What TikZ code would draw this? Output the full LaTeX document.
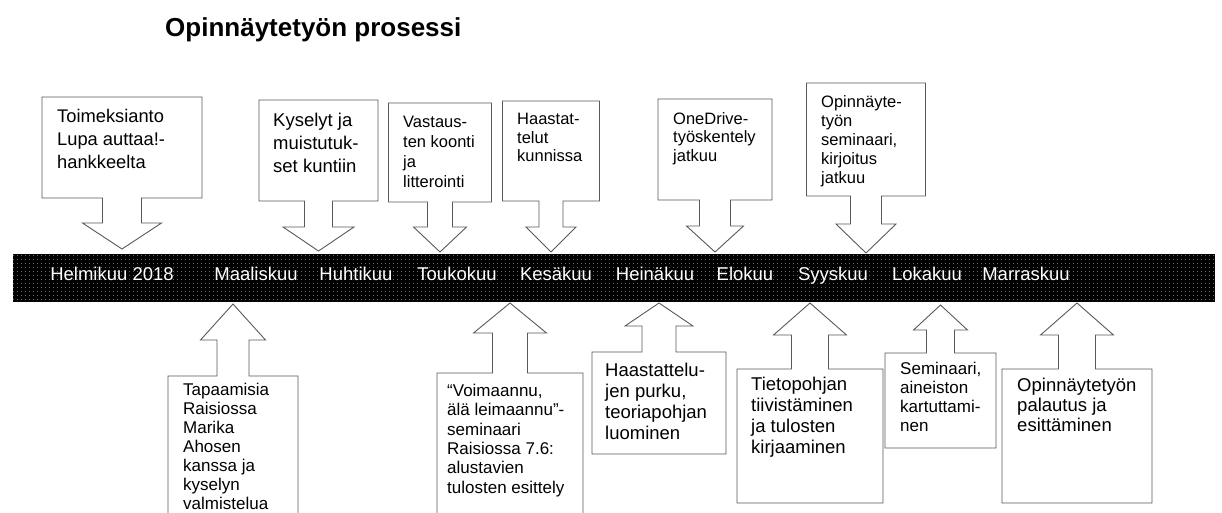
\documentclass[tikz,border=0pt]{standalone}
\usepackage{fontspec}
\setmainfont{Liberation Sans}
\usetikzlibrary{patterns.meta}

% sparse dot texture for the timeline bar
\tikzdeclarepattern{
  name=bardots,
  type=uncolored,
  bottom left={(0pt,0pt)},
  top right={(4pt,4pt)},
  tile size={(4pt,4pt)},
  code={\fill (2pt,2pt) circle (0.55pt);}
}

\tikzset{
  callout/.style={draw=black!65, line width=0.9pt, fill=white, line join=miter},
  note/.style={anchor=north west, inner sep=0pt, align=left, text=black},
  month/.style={anchor=base, text=white, inner sep=0pt, font=\fontsize{18.5}{22}\selectfont},
  titletext/.style={anchor=base west, inner sep=0pt, font=\fontsize{26}{30}\selectfont\bfseries},
}

% Block-arrow callouts: #1 centre x, #2 half box width, #3 box top, #4 box bottom,
% #5 half stem width, #6 half head width, #7 shoulder y, #8 tip y
\newcommand\downcallout[8]{%
  \draw[callout] ({#1-#2},#3) -- ({#1+#2},#3) -- ({#1+#2},#4) -- ({#1+#5},#4)
    -- ({#1+#5},#7) -- ({#1+#6},#7) -- (#1,#8) -- ({#1-#6},#7) -- ({#1-#5},#7)
    -- ({#1-#5},#4) -- ({#1-#2},#4) -- cycle;}
\newcommand\upcallout[8]{%
  \draw[callout] (#1,#8) -- ({#1+#6},#7) -- ({#1+#5},#7) -- ({#1+#5},#3)
    -- ({#1+#2},#3) -- ({#1+#2},#4) -- ({#1-#2},#4) -- ({#1-#2},#3)
    -- ({#1-#5},#3) -- ({#1-#5},#7) -- ({#1-#6},#7) -- cycle;}

\begin{document}
\begin{tikzpicture}[x=1pt,y=-1pt]
\useasboundingbox (0,0) rectangle (1222,512);
\clip (0,0) rectangle (1222,512);

% title
\node[titletext] (title) at (165,36) {Opinnäytetyön prosessi};

% timeline bar
\fill[black] (13,254) rectangle (1215,302);
\fill[pattern=bardots, pattern color=gray!55] (13,254) rectangle (1215,302);
\coordinate (bar) at (614,278);

% months
\node[month] (m02) at (112,280) {Helmikuu 2018};
\node[month] (m03) at (256,280) {Maaliskuu};
\node[month] (m04) at (356,280) {Huhtikuu};
\node[month] (m05) at (457,280) {Toukokuu};
\node[month] (m06) at (556,280) {Kesäkuu};
\node[month] (m07) at (655,280) {Heinäkuu};
\node[month] (m08) at (745,280) {Elokuu};
\node[month] (m09) at (833,280) {Syyskuu};
\node[month] (m10) at (927,280) {Lokakuu};
\node[month] (m11) at (1026,280) {Marraskuu};

% callouts above the bar
\downcallout{122}{80}{97}{198}{19.5}{39.5}{223}{249}
\downcallout{318.5}{59.5}{100}{201}{14}{35.5}{227}{251}
\downcallout{440}{51.5}{103}{202}{12.5}{26.5}{227}{252}
\downcallout{551}{48.5}{101}{201}{12}{25}{227}{252}
\downcallout{715}{57}{99}{200}{15.5}{28.5}{226}{252}
\downcallout{866}{59.5}{83}{196}{15.5}{30}{224}{253}

\node[note, font=\fontsize{18.3}{23}\selectfont] (t1) at (57,109)
  {Toimeksianto\\Lupa auttaa!-\\hankkeelta};
\node[note, font=\fontsize{18.5}{23}\selectfont] (t2) at (273,113)
  {Kyselyt ja\\muistutuk-\\set kuntiin};
\node[note, font=\fontsize{16.5}{20}\selectfont] (t3) at (403,116)
  {Vastaus-\\ten koonti\\ja\\litterointi};
\node[note, font=\fontsize{16.5}{18.5}\selectfont] (t4) at (517,113)
  {Haastat-\\telut\\kunnissa};
\node[note, font=\fontsize{16.5}{18.5}\selectfont] (t5) at (673,112)
  {OneDrive-\\työskentely\\jatkuu};
\node[note, font=\fontsize{16.5}{19}\selectfont] (t6) at (821,95)
  {Opinnäyte-\\työn\\seminaari,\\kirjoitus\\jatkuu};

% callouts below the bar
\upcallout{233}{65}{376}{520}{16}{32.5}{340}{304}
\upcallout{510}{73}{373}{520}{17.5}{36.5}{333}{303}
\upcallout{659}{67}{352}{454}{17}{34}{326}{303}
\upcallout{810}{73}{369}{503}{18.5}{36.5}{335}{303}
\upcallout{940.5}{55.5}{353}{448}{14}{27}{330}{305}
\upcallout{1077}{75}{369}{503}{18.5}{36.5}{335}{303}

\node[note, font=\fontsize{17}{19}\selectfont] (b1) at (183,383)
  {Tapaamisia\\Raisiossa\\Marika\\Ahosen\\kanssa ja\\kyselyn\\valmistelua};
\node[note, font=\fontsize{17}{19.3}\selectfont] (b2) at (447,384)
  {“Voimaannu,\\älä leimaannu”-\\seminaari\\Raisiossa 7.6:\\alustavien\\tulosten esittely};
\node[note, font=\fontsize{18.5}{21}\selectfont] (b3) at (605,363)
  {Haastattelu-\\jen purku,\\teoriapohjan\\luominen};
\node[note, font=\fontsize{18.5}{21}\selectfont] (b4) at (751,377)
  {Tietopohjan\\tiivistäminen\\ja tulosten\\kirjaaminen};
\node[note, font=\fontsize{17}{19}\selectfont] (b5) at (900,362)
  {Seminaari,\\aineiston\\kartuttami-\\nen};
\node[note, font=\fontsize{18.5}{20}\selectfont] (b6) at (1017,378)
  {Opinnäytetyön\\palautus ja\\esittäminen};
\end{tikzpicture}
\end{document}
